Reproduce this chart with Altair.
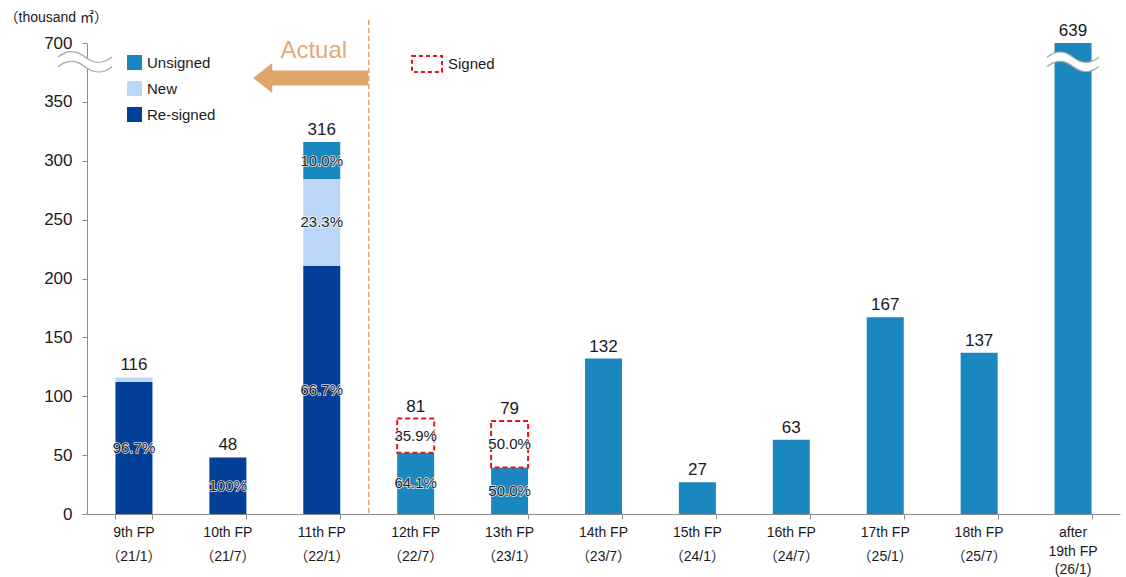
import altair as alt
import pandas as pd

FONT = "Liberation Sans, Noto Sans CJK JP, sans-serif"

# Fiscal periods on the x axis
categories = [
    "9th FP\n（21/1）", "10th FP\n（21/7）", "11th FP\n（22/1）", "12th FP\n（22/7）",
    "13th FP\n（23/1）", "14th FP\n（23/7）", "15th FP\n（24/1）", "16th FP\n（24/7）",
    "17th FP\n（25/1）", "18th FP\n（25/7）", "after\n19th FP\n(26/1)",
]
# Expiring leased area per period (thousand m2)
totals = [116, 48, 316, 81, 79, 132, 27, 63, 167, 137, 639]

# Share of each period's area by status (%)
resigned_share = [96.7, 100, 66.7, 0, 0, 0, 0, 0, 0, 0, 0]
new_share = [3.3, 0, 23.3, 0, 0, 0, 0, 0, 0, 0, 0]
unsigned_share = [0, 0, 10.0, 64.1, 50.0, 100, 100, 100, 100, 100, 100]
signed_share = [0, 0, 0, 35.9, 50.0, 0, 0, 0, 0, 0, 0]

# Share labels printed on the bars
resigned_text = ["96.7%", "100%", "66.7%", "", "", "", "", "", "", "", ""]
new_text = ["", "", "23.3%", "", "", "", "", "", "", "", ""]
unsigned_text = ["", "", "10.0%", "64.1%", "50.0%", "", "", "", "", "", ""]
signed_text = ["", "", "", "35.9%", "50.0%", "", "", "", "", "", ""]

# Broken y axis: scale stops at 400, whose tick is labelled 700
AXIS_TOP = 400
AXIS_TICKS = [0, 50, 100, 150, 200, 250, 300, 350, 400]
BREAK_AT = 384

COL_UNSIGNED = "#1A87BE"
COL_NEW = "#BBD7F8"
COL_RESIGNED = "#023F98"
COL_SIGNED = "#E8141B"
COL_ACTUAL = "#DFA66C"
GREY = "#8C8C8C"
INK = "#1A1A1A"

rows = []
segments = [
    ("Re-signed", resigned_share, resigned_text),
    ("New", new_share, new_text),
    ("Unsigned", unsigned_share, unsigned_text),
    ("Signed", signed_share, signed_text),
]
for i, cat in enumerate(categories):
    start = 0.0
    for name, shares, texts in segments:
        share = shares[i]
        if share <= 0:
            continue
        val = totals[i] * share / 100.0
        rows.append({"category": cat, "segment": name, "start": start,
                     "end": start + val, "label": texts[i]})
        start += val
seg_df = pd.DataFrame(rows)
tot_df = pd.DataFrame({"category": categories, "total": totals})

x_scale = alt.Scale(domain=categories, paddingInner=0.606, paddingOuter=0.303)
y_scale = alt.Scale(domain=[0, AXIS_TOP], nice=False, zero=True)


def x_enc(axis=None):
    if axis is None:
        return alt.X("category:N", scale=x_scale, sort=categories, title=None)
    return alt.X("category:N", scale=x_scale, sort=categories, axis=axis, title=None)


x_axis = alt.Axis(
    labels=False, tickBand="extent", tickSize=5, tickColor=GREY,
    domainColor=GREY, grid=False,
)
y_axis = alt.Axis(
    values=AXIS_TICKS, labelExpr="datum.value == 400 ? '700' : datum.label",
    labelFont=FONT, labelFontSize=17, labelColor=INK, labelPadding=10,
    tickSize=5, tickColor=GREY, domainColor=GREY, grid=False,
    title="（thousand ㎡）", titleAngle=0, titleAlign="left", titleBaseline="middle",
    titleX=-83, titleY=-26, titleFont=FONT, titleFontSize=14,
    titleFontWeight="normal", titleColor=INK,
)

base = alt.Chart(seg_df)

bars = base.transform_filter("datum.segment != 'Signed'").mark_bar(clip=True).encode(
    x=x_enc(x_axis),
    y=alt.Y("start:Q", scale=y_scale, axis=y_axis),
    y2="end:Q",
    fill=alt.Fill(
        "segment:N",
        scale=alt.Scale(domain=["Unsigned", "New", "Re-signed"],
                        range=[COL_UNSIGNED, COL_NEW, COL_RESIGNED]),
        legend=alt.Legend(
            title=None, orient="none", legendX=40, legendY=12, padding=0,
            symbolType="square", symbolSize=225, symbolStrokeWidth=0,
            labelFont=FONT, labelFontSize=15, labelColor=INK,
            labelOffset=5, rowPadding=10,
        ),
    ),
)

signed = base.transform_filter("datum.segment == 'Signed'").mark_bar(
    fill="white", strokeDash=[5, 3], strokeWidth=2
).encode(
    x=x_enc(),
    y=alt.Y("start:Q", scale=y_scale),
    y2="end:Q",
    stroke=alt.Stroke(
        "segment:N",
        scale=alt.Scale(domain=["Signed"], range=[COL_SIGNED]),
        legend=alt.Legend(
            title=None, orient="none", legendX=324, legendY=5, padding=0,
            symbolType="M-1,-0.53H1V0.53H-1Z", symbolSize=900,
            symbolFillColor="white", symbolStrokeWidth=2, symbolDash=[4, 3],
            labelFont=FONT, labelFontSize=15, labelColor=INK, labelOffset=5,
        ),
    ),
)

pct = base.transform_filter("datum.label != ''").transform_calculate(
    mid="(datum.start + datum.end) / 2"
)
pct_halo = pct.mark_text(
    font=FONT, fontSize=15, stroke="white", strokeWidth=1.5, fill="white",
    baseline="middle", strokeOpacity=0.85
).encode(x=x_enc(), y=alt.Y("mid:Q", scale=y_scale), text="label:N")
pct_text = pct.mark_text(
    font=FONT, fontSize=15, fill=INK, baseline="middle"
).encode(x=x_enc(), y=alt.Y("mid:Q", scale=y_scale), text="label:N")

totals_text = alt.Chart(tot_df).transform_calculate(
    shown=f"min(datum.total, {AXIS_TOP})"
).mark_text(font=FONT, fontSize=17, color=INK, baseline="bottom", dy=-3).encode(
    x=x_enc(), y=alt.Y("shown:Q", scale=y_scale), text="total:Q"
)

# Category labels under the axis (period name, then closing month)
cat_df = pd.DataFrame({"category": categories})
last_cat = categories[-1].replace("\n", "\\n")
cat_labels_two = alt.Chart(cat_df).transform_filter(
    f"datum.category != '{last_cat}'"
).mark_text(
    font=FONT, fontSize=14, color=INK, baseline="top", lineBreak="\n", lineHeight=24
).encode(x=x_enc(), y=alt.value(483), text="category:N")
cat_labels_three = alt.Chart(cat_df).transform_filter(
    f"datum.category == '{last_cat}'"
).mark_text(
    font=FONT, fontSize=14, color=INK, baseline="top", lineBreak="\n", lineHeight=18.5
).encode(x=x_enc(), y=alt.value(483), text="category:N")

# Wavy break marks (white band with two grey waves)
BAND_PATH = ("M-1,-0.18 C-0.65,-0.45 -0.35,-0.45 0,-0.18 C0.35,0.09 0.65,0.09 1,-0.18 "
             "L1,0.18 C0.65,0.45 0.35,0.45 0,0.18 C-0.35,-0.09 -0.65,-0.09 -1,0.18 Z")
WAVE_PATH = ("M-1,-0.18 C-0.65,-0.45 -0.35,-0.45 0,-0.18 C0.35,0.09 0.65,0.09 1,-0.18 "
             "M-1,0.18 C-0.65,-0.09 -0.35,-0.09 0,0.18 C0.35,0.45 0.65,0.45 1,0.18")
last_df = pd.DataFrame({"category": [categories[-1]]})
bar_band = alt.Chart(last_df).mark_point(
    shape=BAND_PATH, size=2704, filled=True, fill="white", opacity=1, strokeWidth=0
).encode(x=x_enc(), y=alt.datum(BREAK_AT, scale=y_scale))
bar_wave = alt.Chart(last_df).mark_point(
    shape=WAVE_PATH, size=2704, filled=False, stroke="#A8A8A8", strokeWidth=1.3, opacity=1
).encode(x=x_enc(), y=alt.datum(BREAK_AT, scale=y_scale))
axis_band = alt.Chart(last_df).mark_point(
    shape=BAND_PATH, size=2916, filled=True, fill="white", opacity=1, strokeWidth=0
).encode(x=alt.value(-2), y=alt.datum(BREAK_AT, scale=y_scale))
axis_wave = alt.Chart(last_df).mark_point(
    shape=WAVE_PATH, size=2916, filled=False, stroke="#A8A8A8", strokeWidth=1.3, opacity=1
).encode(x=alt.value(-2), y=alt.datum(BREAK_AT, scale=y_scale))

# "Actual" divider between results and forecast
div_df = pd.DataFrame({"category": [categories[2]]})
divider = alt.Chart(div_df).mark_rule(
    color=COL_ACTUAL, strokeDash=[5, 3], strokeWidth=1.5, xOffset=47
).encode(x=x_enc(), y=alt.value(-23), y2=alt.value(471))
ARROW_PATH = "M-1,0 L-0.67,-0.26 L-0.67,-0.13 L1,-0.13 L1,0.13 L-0.67,0.13 L-0.67,0.26 Z"
arrow = alt.Chart(div_df).mark_point(
    shape=ARROW_PATH, size=13225, filled=True, fill=COL_ACTUAL, opacity=1,
    strokeWidth=0, xOffset=-11
).encode(x=x_enc(), y=alt.value(35))
actual_text = alt.Chart(div_df).mark_text(
    text="Actual", font=FONT, fontSize=24, color="#E2AA74", xOffset=-8, baseline="middle"
).encode(x=x_enc(), y=alt.value(8))

chart = alt.layer(
    bars, signed, pct_halo, pct_text, totals_text, cat_labels_two, cat_labels_three,
    bar_band, bar_wave, axis_band, axis_wave, divider, arrow, actual_text,
).resolve_scale(fill="independent", stroke="independent").properties(
    width=1033, height=471, autosize="none", background="white",
    padding={"left": 87, "top": 43, "right": 6, "bottom": 63},
).configure_view(stroke="transparent", strokeWidth=0)

chart.save("out.html", embed_options={"renderer": "svg", "actions": False})
